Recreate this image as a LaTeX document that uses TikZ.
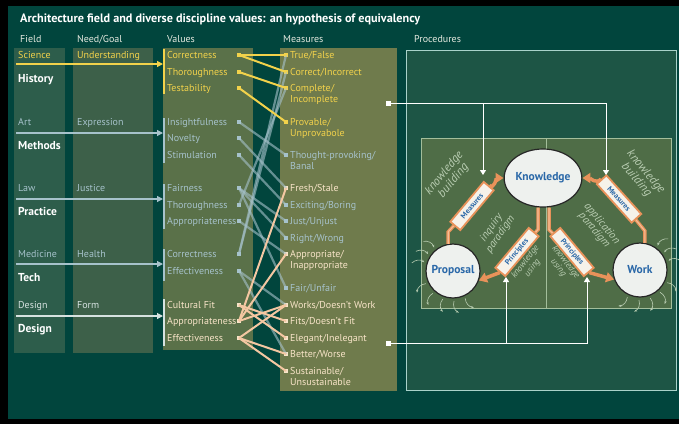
\documentclass[tikz,border=0pt]{standalone}
\usepackage{fontspec}
\setmainfont{PT Sans}
\usetikzlibrary{calc,arrows.meta,shapes.geometric}

\definecolor{bgteal}{HTML}{01453D}
\definecolor{procbg}{HTML}{1D5545}
\definecolor{fieldbg}{HTML}{2D5D4B}
\definecolor{needbg}{HTML}{3D6049}
\definecolor{valbg}{HTML}{5A7149}
\definecolor{measbg}{HTML}{6F7B4C}
\definecolor{innerbg}{HTML}{4F6D47}
\definecolor{innerline}{HTML}{A3BE9B}
\definecolor{sciyel}{HTML}{F2D24B}
\definecolor{greyblue}{HTML}{A6C2CB}
\definecolor{peach}{HTML}{F4C7A2}
\definecolor{cream}{HTML}{F8E4C8}
\definecolor{paleblue}{HTML}{D6E2E0}
\definecolor{headwhite}{HTML}{E4E9DF}
\definecolor{orangebar}{HTML}{E8925A}
\definecolor{orangelight}{HTML}{F5BE96}
\definecolor{knowblue}{HTML}{2A68A8}
\definecolor{handgreen}{HTML}{B9CDB2}
\definecolor{frameline}{HTML}{A9D2CA}
\definecolor{nodefill}{HTML}{EEF1EE}
\definecolor{boxfill}{HTML}{F6F2EA}

\begin{document}
\begin{tikzpicture}[x=1pt,y=-1pt,
    hdr/.style={anchor=base west,inner sep=0,text=headwhite,font=\fontsize{10}{11}\selectfont},
    lbl/.style={anchor=base west,inner sep=0,font=\fontsize{10}{11}\selectfont},
    fieldbold/.style={anchor=base west,inner sep=0,text=white,font=\fontsize{11.5}{12}\selectfont\bfseries},
    meas/.style={anchor=base west,inner sep=0,align=left,font=\fontsize{10}{10.5}\selectfont},
    feed/.style={line width=1.2pt,-{Triangle[length=6pt,width=6pt]}},
    vbar/.style={line width=1.6pt},
    ylink/.style={line width=2pt,sciyel},
    blink/.style={line width=2.2pt,greyblue,opacity=.6},
    plink/.style={line width=2pt,peach},
    obase/.style={line width=3.5pt,orangebar},
    obar/.style={obase,postaction={draw,line width=1.1pt,orangelight}},
    oarrow/.style={obase,-{Triangle[length=8pt,width=10pt]}},
    pbox/.style={draw=orangebar,line width=1.8pt,fill=boxfill,text=knowblue,
      font=\fontsize{7.5}{8}\selectfont\bfseries,minimum width=52pt,minimum height=13pt,inner sep=1pt},
    bubble/.style={draw=black!85,line width=1.2pt,fill=nodefill,text=knowblue,
      font=\fontsize{11.5}{12}\selectfont\bfseries},
    hand/.style={text=handgreen,align=center,inner sep=0,font=\fontsize{11}{10}\selectfont\itshape},
    warrow/.style={line width=1pt,white,-{Triangle[length=5pt,width=6pt]}},
    swirl/.style={line width=.6pt,handgreen,-{Stealth[length=3pt]}}]

\useasboundingbox (0,0) rectangle (679,424);
\fill[black] (0,0) rectangle (679,424);
\fill[bgteal] (8,6) rectangle (679,419);

% columns
\fill[fieldbg] (14,48) rectangle (65,353);
\fill[needbg] (73,48) rectangle (153,353);
\fill[valbg] (163,48) rectangle (253,350);
\fill[measbg] (280,48) rectangle (397,391);

% title and headers
\node[anchor=base west,inner sep=0,text=white,font=\fontsize{12.2}{14}\selectfont\bfseries] (title) at (20,22) {Architecture field and diverse discipline values: an hypothesis of equivalency};
\node[hdr] (hfield) at (20,42) {Field};
\node[hdr] (hneed) at (77,42) {Need/Goal};
\node[hdr] (hval) at (167,42) {Values};
\node[hdr] (hmeas) at (283,42) {Measures};
\node[hdr] (hproc) at (414,42) {Procedures};

% fields and goals
\foreach \n/\f/\g/\b/\y/\c in {sci/Science/Understanding/History/55/sciyel,
    art/Art/Expression/Methods/122/greyblue,
    law/Law/Justice/Practice/188/greyblue,
    med/Medicine/Health/Tech/254/greyblue,
    des/Design/Form/Design/305/paleblue}{
  \node[lbl,text=\c] (\n field) at (18,\y+3.5) {\f};
  \node[lbl,text=\c] (\n goal) at (77,\y+3.5) {\g};
  \node[fieldbold] (\n bold) at (18,\y+27) {\b};
}
\foreach \n/\y/\t/\u/\c in {sci/64/49/94/sciyel, art/133/118/163/greyblue, law/199/184/229/greyblue,
    med/264/249/281/greyblue, des/316/299/346/paleblue}{
  \coordinate (\n start) at (16,\y);
  \coordinate (\n end) at (163,\y);
  \draw[vbar,\c] (164,\t) -- (164,\u);
  \draw[feed,\c] (\n start) -- (\n end);
}

% values
\foreach \n/\t/\y/\c in {sci1/Correctness/55/sciyel, sci2/Thoroughness/72/sciyel, sci3/Testability/88/sciyel,
    art1/Insightfulness/122/greyblue, art2/Novelty/138/greyblue, art3/Stimulation/155/greyblue,
    law1/Fairness/188/greyblue, law2/Thoroughness/205/greyblue, law3/Appropriateness/221/greyblue,
    med1/Correctness/254/greyblue, med2/Effectiveness/271/greyblue,
    des1/Cultural Fit/305/cream, des2/Appropriateness/321/cream, des3/Effectiveness/338/cream}{
  \node[lbl,text=\c] (\n) at (167,\y+3.5) {\t};
  \coordinate (\n d) at (239,\y);
  \fill[\c] ($(\n d)+(-1.6,-1.6)$) rectangle ++(3.2,3.2);
}

% measures (\k = extra lines below the first)
\foreach \n/\t/\y/\k/\c in {m1/True\slash False/55/0/sciyel, m2/Correct\slash Incorrect/72/0/sciyel,
    m3/Complete\slash\\Incomplete/88/1/sciyel, m4/Provable\slash\\Unprovabole/122/1/sciyel,
    m5/Thought-provoking\slash\\Banal/155/1/greyblue, m6/Fresh\slash Stale/188/0/cream,
    m7/Exciting\slash Boring/205/0/greyblue, m8/Just\slash Unjust/221/0/greyblue,
    m9/Right\slash Wrong/238/0/greyblue, m10/Appropriate\slash\\Inappropriate/254/1/cream,
    m11/Fair\slash Unfair/288/0/greyblue, m12/Works\slash Doesn't Work/305/0/cream,
    m13/Fits\slash Doesn't Fit/321/0/cream, m14/Elegant\slash Inelegant/338/0/cream,
    m15/Better\slash Worse/354/0/cream, m16/Sustainable\slash\\Unsustainable/371/1/cream}{
  \node[meas,text=\c] (\n) at (290,{\y+3.5+10.5*\k}) {\t};
  \coordinate (\n d) at (286,\y);
  \fill[\c] ($(\n d)+(-1.6,-1.6)$) rectangle ++(3.2,3.2);
}

% links value -> measure
\foreach \a/\b in {art1/m5, art2/m6, art3/m7, law1/m8, law1/m9, law1/m11, law2/m3, law3/m10,
    med1/m1, med1/m2, med2/m12, med2/m15}
  \draw[blink] (\a d) -- (\b d);
\foreach \a/\b in {sci1/m1, sci1/m2, sci2/m3, sci3/m4}
  \draw[ylink] (\a d) -- (\b d);
\foreach \a/\b in {des1/m13, des1/m14, des2/m6, des2/m10, des2/m12, des3/m12, des3/m15, des3/m16}
  \draw[plink] (\a d) -- (\b d);

% procedures
\draw[frameline,fill=procbg,line width=1pt] (406,50) rectangle (676,390);
\draw[innerline,fill=innerbg,line width=.8pt] (421,138) rectangle (671,308);
\draw[innerline,line width=.8pt] (546,138) -- (546,308);

\node[bubble,ellipse,minimum width=62pt,minimum height=58pt,inner sep=0] (kn) at (543,178) {Knowledge};
\node[bubble,circle,minimum size=54pt,inner sep=0] (prop) at (453,271) {Proposal};
\node[bubble,circle,minimum size=54pt,inner sep=0] (work) at (640,270) {Work};

% inquiry side
\draw[obar] (prop.100) -- ++(0,-12) -- (472,206);
\draw[obar] ($(kn.south)+(-5,0)$) -- ++(0,22) -- (517,252);
% application side
\draw[obar] (work.80) -- ++(0,-12) -- (619,199);
\draw[obar] ($(kn.south)+(6,0)$) -- ++(0,22) -- (572,252);

\node[pbox,rotate=50] (lmeas) at (472,206) {Measures};
\node[pbox,rotate=-48] (rmeas) at (619,199) {Measures};
\node[pbox,rotate=50] (lprin) at (517,252) {Principles};
\node[pbox,rotate=-50] (rprin) at (572,252) {Principles};

\draw[oarrow] (lmeas.east) to[out=-50,in=180] (kn.west);
\draw[oarrow] (lprin.west) -- (prop.-20);
\draw[oarrow] (rmeas.west) to[out=-130,in=0] (kn.east);
\draw[oarrow] (rprin.east) -- (work.200);

\node[hand,rotate=50,font=\fontsize{12}{10.5}\selectfont\itshape] (lbuild) at (449,177) {knowledge\\building};
\node[hand,rotate=-50,font=\fontsize{12}{10.5}\selectfont\itshape] (rbuild) at (641,176) {knowledge\\building};
\node[hand,rotate=55] (inq) at (496,231) {inquiry\\paradigm};
\node[hand,rotate=-50] (appl) at (598,227) {application\\paradigm};
\node[hand,rotate=52,font=\fontsize{9}{8}\selectfont\itshape] (luse) at (529,265) {knowledge\\using};
\node[hand,rotate=-52,font=\fontsize{9}{8}\selectfont\itshape] (ruse) at (562,265) {knowledge\\using};

% little swirls
\foreach \a in {-135,-152,-169}
  \draw[swirl] ($(prop)+(\a:42)$) to[bend left=40] ($(prop)+(\a+6:30)$);
\foreach \a in {-205,-228,-250,-272,-294}
  \draw[swirl] ($(prop)+(\a:30)$) to[bend right=40] ($(prop)+(\a-6:42)$);
\foreach \a in {-12,-30,-48}
  \draw[swirl] ($(work)+(\a:42)$) to[bend right=40] ($(work)+(\a-6:30)$);
\foreach \a in {-245,-268,-290,-312,-335}
  \draw[swirl] ($(work)+(\a:30)$) to[bend left=40] ($(work)+(\a+6:42)$);

% feeds from measures
\coordinate (tapA) at (388,103);
\coordinate (tapB) at (388,343);
\coordinate (jA) at (483,103);
\coordinate (jB) at (506,343);
\coordinate (tipML) at (483,175);
\coordinate (tipMR) at (606,175);
\coordinate (tipPL) at (506,277);
\coordinate (tipPR) at (587,277);
\fill[white] ($(tapA)+(-2.5,-2.5)$) rectangle ++(5,5);
\fill[white] ($(tapB)+(-2.5,-2.5)$) rectangle ++(5,5);
\draw[warrow] (tapA) -| (tipMR);
\draw[warrow] (jA) -- (tipML);
\draw[warrow] (tapB) -| (tipPR);
\draw[warrow] (jB) -- (tipPL);
\end{tikzpicture}
\end{document}
